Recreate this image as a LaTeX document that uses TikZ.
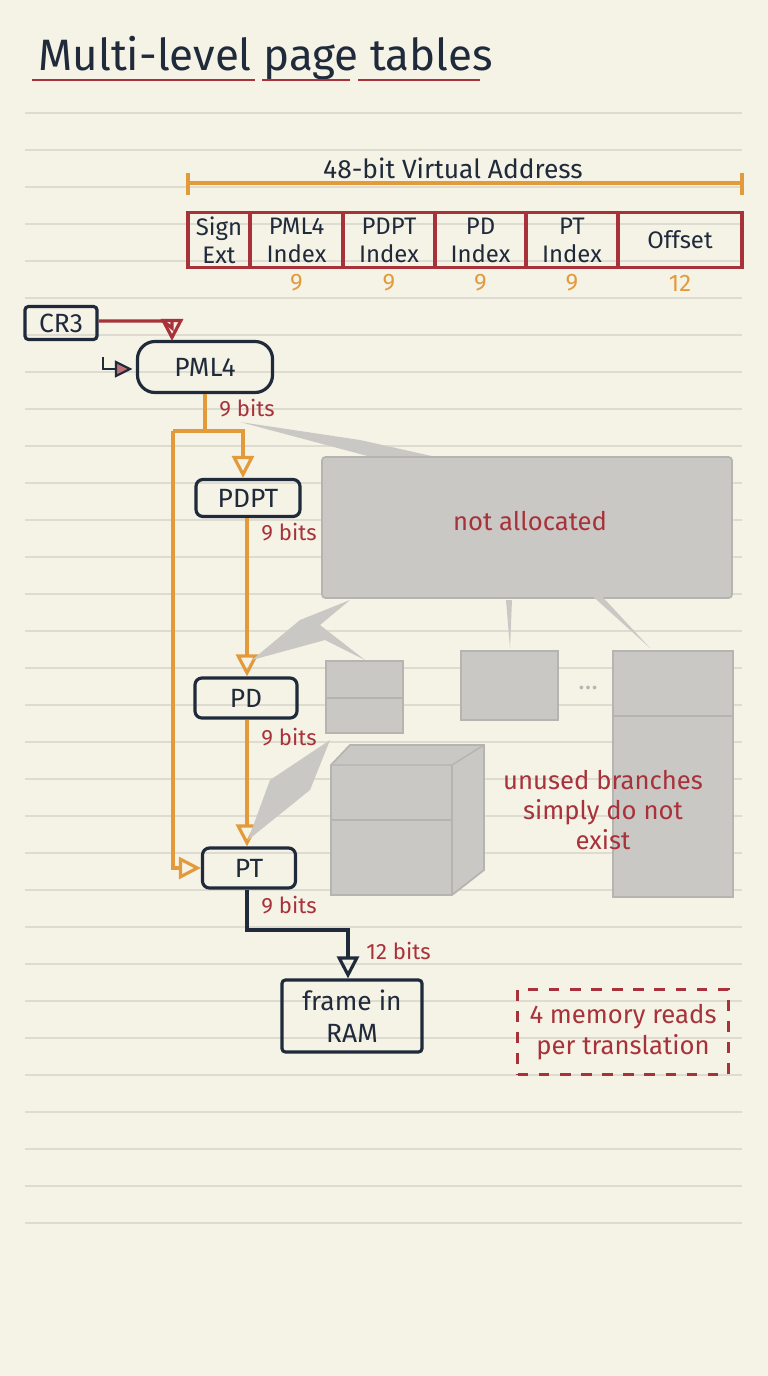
\documentclass[tikz,border=0pt]{standalone}
\usepackage{fontspec}
\setmainfont{Fira Sans}
\usetikzlibrary{arrows.meta, positioning, calc}
\definecolor{paper}{HTML}{F5F2E6}
\definecolor{rule}{HTML}{DEDBD0}
\definecolor{ink}{HTML}{1F2A3A}
\definecolor{redink}{HTML}{A8323A}
\definecolor{orangeink}{HTML}{E39A3B}
\definecolor{ghost}{HTML}{C9C8C4}
\definecolor{ghostline}{HTML}{B5B4B0}

\begin{document}
\begin{tikzpicture}[
    x=0.01cm, y=-0.01cm,
    >={Triangle[open, length=2.2mm, width=2.2mm]},
    every node/.style={font=\fontsize{7.5}{9}\selectfont, text=ink},
    table box/.style={draw=ink, line width=0.9pt, rounded corners=2pt, inner sep=0pt},
    field/.style={draw=redink, line width=0.9pt, inner sep=0pt, align=center},
    bits/.style={text=redink, font=\fontsize{6.3}{7}\selectfont, anchor=west},
    walk/.style={draw=orangeink, line width=0.9pt},
    ghost box/.style={fill=ghost, draw=ghostline, line width=0.5pt},
    note/.style={text=redink, align=center, font=\fontsize{7.3}{8.6}\selectfont}
]

    % === Paper ===
    \fill[paper] (0,0) rectangle (768,1376);
    \foreach \k in {0,...,30} {
        \draw[rule, line width=0.5pt] (25,{113+37*\k}) -- (742,{113+37*\k});
    }

    % === Title ===
    \node[anchor=west, font=\fontsize{12.5}{15}\selectfont] (title) at (26,58) {Multi-level page tables};
    \draw[redink, line width=0.8pt] (32,80) -- (255,80);
    \draw[redink, line width=0.8pt] (262,80) -- (350,80);
    \draw[redink, line width=0.8pt] (358,80) -- (480,80);

    % === Virtual address ===
    \node (valabel) at (453,168) {48-bit Virtual Address};
    \coordinate (vaL) at (188,183);
    \coordinate (vaR) at (742,183);
    \draw[orangeink, line width=0.9pt] (vaL) -- (vaR);
    \draw[orangeink, line width=0.9pt] (188,173) -- (188,195);
    \draw[orangeink, line width=0.9pt] (742,173) -- (742,195);

    \foreach \xa/\xb/\txt/\n [count=\i] in {188/250/{Sign\\Ext}/, 250/343/{PML4\\Index}/9,
        343/435/{PDPT\\Index}/9, 435/526/{PD\\Index}/9, 526/618/{PT\\Index}/9, 618/742/Offset/12} {
        \node[field, minimum width={(\xb-\xa)*0.01cm}, minimum height=0.55cm,
              font=\fontsize{6.8}{8}\selectfont] (f\i) at ({(\xa+\xb)/2},240) {\txt};
        \node[text=orangeink, font=\fontsize{6.8}{8}\selectfont] (n\i) at ({(\xa+\xb)/2},283) {\n};
    }

    % === Walk ===
    \node[table box, rounded corners=1pt, minimum width=0.72cm, minimum height=0.33cm] (cr3) at (61,323) {CR3};
    \node[table box, rounded corners=5pt, minimum width=1.35cm, minimum height=0.51cm] (pml4) at (205,367) {PML4};
    \node[table box, minimum width=1.04cm, minimum height=0.37cm] (pdpt) at (248,498) {PDPT};
    \node[table box, minimum width=1.02cm, minimum height=0.40cm] (pd) at (246,698) {PD};
    \node[table box, minimum width=0.93cm, minimum height=0.40cm] (pt) at (249,868) {PT};
    \node[table box, rounded corners=1pt, minimum width=1.40cm, minimum height=0.72cm, align=center] (frame) at (352,1016) {frame in\\RAM};

    \draw[redink, line width=0.9pt, ->] (cr3.east |- 0,321) -- (163,321) -- (172,328) -- (172,341);
    \draw[ink, line width=0.8pt] (103,357) -- (103,369) -- (116,369);
    \fill[redink!70] (116,362) -- (130,369) -- (116,376) -- cycle;
    \draw[ink, line width=0.6pt] (116,362) -- (130,369) -- (116,376) -- cycle;

    \coordinate (split) at (205,431);
    \coordinate (leftrun) at (173,431);
    \draw[walk] (pml4.south) -- (split);
    \draw[walk, ->] (leftrun) -- (243,431) -- (pdpt.north -| 243,0);
    \draw[walk, ->] (leftrun) -- (173,868) -- (pt.west);
    \draw[walk, ->] (pdpt.south -| 247,0) -- (pd.north -| 247,0);
    \draw[walk, ->] (pd.south -| 247,0) -- (pt.north -| 247,0);
    \draw[ink, line width=0.9pt, ->] (pt.south -| 247,0) -- (247,930) -- (348,930) -- (frame.north -| 348,0);

    \node[bits] (b1) at (207,408) {9 bits};
    \node[bits] (b2) at (249,532) {9 bits};
    \node[bits] (b3) at (249,737) {9 bits};
    \node[bits] (b4) at (249,905) {9 bits};
    \node[bits] (b5) at (354,951) {12 bits};

    % === Unallocated branches ===
    \fill[ghost] (240,422) -- (360,440) -- (530,478) -- (420,470) -- cycle;
    \draw[ghost box, rounded corners=1pt] (322,457) rectangle (732,598);
    \node[note] (notalloc) at (530,521) {not allocated};
    \fill[ghost] (252,660) -- (300,620) -- (350,600) -- (320,625) -- (365,660) -- (325,640) -- cycle;
    \fill[ghost] (248,840) -- (270,780) -- (330,740) -- (310,790) -- cycle;
    \fill[ghost] (506,600) -- (512,600) -- (510,648) -- cycle;
    \fill[ghost] (588,592) -- (598,592) -- (650,648) -- cycle;
    \draw[ghost box] (326,661) rectangle (403,733);
    \draw[ghostline] (326,698) -- (403,698);
    \draw[ghost box] (461,651) rectangle (558,720);
    \node[text=ghostline] (dots) at (588,688) {\dots};
    \draw[ghost box] (613,651) rectangle (733,897);
    \draw[ghostline] (613,716) -- (733,716);
    \draw[ghost box] (331,765) -- (350,745) -- (484,745) -- (484,870) -- (452,895) -- (331,895) -- cycle;
    \draw[ghostline] (331,765) -- (452,765) -- (484,745);
    \draw[ghostline] (452,765) -- (452,895);
    \draw[ghostline] (331,820) -- (452,820);
    \node[note] (unused) at (603,810) {unused branches\\simply do not\\exist};

    % === Cost note ===
    \node[note, draw=redink, dashed, line width=0.8pt, minimum width=2.1cm, minimum height=0.85cm] (reads) at (623,1032) {4 memory reads\\per translation};

\end{tikzpicture}
\end{document}
